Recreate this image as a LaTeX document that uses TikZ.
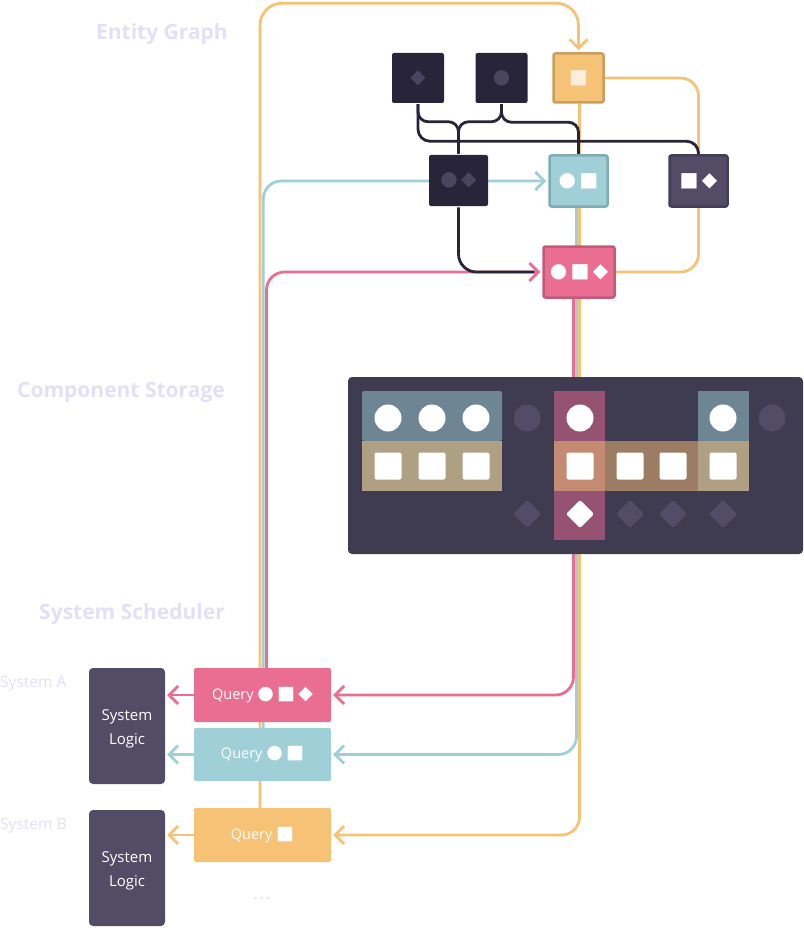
\documentclass[tikz,border=0pt]{standalone}
\usepackage{fontspec}
\setmainfont{Open Sans}
\newfontfamily\symfont{DejaVu Sans}
\usetikzlibrary{arrows.meta,calc}

\definecolor{lav}{HTML}{E2DFF7}
\definecolor{ink}{HTML}{28243A}
\definecolor{muted}{HTML}{4A4560}
\definecolor{plum}{HTML}{524C66}
\definecolor{plumD}{HTML}{433E57}
\definecolor{store}{HTML}{3F3B51}
\definecolor{qorange}{HTML}{F5C276}
\definecolor{qorangeD}{HTML}{C99E5E}
\definecolor{cream}{HTML}{FBEEDD}
\definecolor{qblue}{HTML}{9FD0D8}
\definecolor{qblueD}{HTML}{80ADB3}
\definecolor{qpink}{HTML}{E96E91}
\definecolor{qpinkD}{HTML}{C45A7A}
\definecolor{sblue}{HTML}{6E8594}
\definecolor{stan}{HTML}{B0A083}
\definecolor{stanD}{HTML}{9C7C62}
\definecolor{spink}{HTML}{955273}
\definecolor{smix}{HTML}{C48A72}

\pgfdeclarelayer{background}
\pgfsetlayers{background,main}

\begin{document}
\begin{tikzpicture}
		[x=1pt,y=-1pt,
		title/.style ={font=\fontsize{21}{24}\selectfont\bfseries, text=lav, anchor=base east, inner sep=0pt},
		sysname/.style ={font=\fontsize{15.5}{18}\selectfont, text=lav, anchor=base west, inner sep=0pt},
		ent/.style ={rectangle, rounded corners=2pt, line width=2.5pt, inner sep=0pt, text=white, font=\symfont\fontsize{20}{20}\selectfont},
		dark/.style ={ent, fill=ink, text=muted, minimum width=52pt, minimum height=50pt},
		query/.style ={rectangle, rounded corners=2pt, minimum width=137pt, minimum height=54pt, text=white, font=\fontsize{14.5}{18}\selectfont},
		logic/.style ={rectangle, rounded corners=4pt, fill=plum, minimum width=76pt, minimum height=116pt, text=white, align=center, font=\fontsize{15}{24}\selectfont},
		line/.style ={line width=2.8pt, rounded corners=18pt},
		arr/.style ={-{Straight Barb[length=9pt,width=18pt]}, shorten >=2pt},
		]
		\useasboundingbox (0,0) rectangle (803,928);

		% section titles
		\draw (228,40) node[title] (T1) {Entity Graph};
		\draw (225,397) node[title] (T2) {Component Storage};
		\draw (225,619) node[title] (T3) {System Scheduler};
		\draw (0,687) node[sysname] (SA) {System A};
		\draw (0,829) node[sysname] (SB) {System B};

		% entity graph
		\draw (418,78) node[dark] (G1) {◆};
		\draw (501.5,78) node[dark] (G2) {●};
		\draw (578.5,78) node[ent, fill=qorange, draw=qorangeD, text=cream, minimum width=50pt, minimum height=49pt] (G3) {■};
		\draw (458.5,180.5) node[dark, minimum width=59pt, minimum height=51pt] (G4) {●\,◆};
		\draw (578.5,181) node[ent, fill=qblue, draw=qblueD, minimum width=58pt, minimum height=51pt] (G5) {●\,■};
		\draw (698.5,181) node[ent, fill=plum, draw=plumD, minimum width=58pt, minimum height=51pt] (G6) {■\,◆};
		\draw (579,272) node[ent, fill=qpink, draw=qpinkD, minimum width=71pt, minimum height=51pt] (G7) {●\,■\,◆};

		% component storage
		\draw (575.5,465.5) node[rectangle, rounded corners=4pt, fill=store, minimum width=455pt, minimum height=177pt] (S) {};
		\fill[sblue, rounded corners=2pt] (362,391) rectangle (502,441);
		\fill[stan] (362,441) rectangle (502,491);
		\fill[sblue] (698,391) rectangle (749,441);
		\fill[stanD] (554,441) rectangle (698,491);
		\fill[stan] (698,441) rectangle (749,491);
		\fill[spink] (554,391) rectangle (605,540);
		\fill[smix] (554,441) rectangle (605,491);
		\foreach \x in {388,432,476,580,723} \fill[white] (\x,418) circle (13.5);
		\foreach \x in {527,772} \fill[plum] (\x,418) circle (13.5);
		\foreach \x in {388,432,476,580,630,673,723} \fill[white, rounded corners=2pt] (\x-13.5,452.5) rectangle ++(27,27);
		\foreach \x/\c in {527/plum,580/white,630/plum,673/plum,723/plum}
			\fill[\c, rounded corners=2pt] (\x,500) -- ++(14,14) -- ++(-14,14) -- ++(-14,-14) -- cycle;

		% system scheduler
		\draw (262.5,695) node[query, fill=qpink] (Q1) {Query {\symfont\fontsize{19}{19}\selectfont ●\,■\,◆}};
		\draw (262.5,754.5) node[query, fill=qblue, minimum height=53pt] (Q2) {Query {\symfont\fontsize{19}{19}\selectfont ●\,■}};
		\draw (262.5,835) node[query, fill=qorange] (Q3) {Query {\symfont\fontsize{19}{19}\selectfont ■}};
		\draw (127,726) node[logic] (L1) {\strut System\\Logic};
		\draw (127,868) node[logic] (L2) {\strut System\\Logic};
		\draw (262,899) node[text=lav, font=\fontsize{14}{16}\selectfont\bfseries] (D) {.\,.\,.};

		\path[line, arr]
		(Q1.west) edge[qpink] (Q1.west -| L1.east)
		(Q2.west) edge[qblue] (Q2.west -| L1.east)
		(Q3.west) edge[qorange] (Q3.west -| L2.east);

		\begin{pgfonlayer}{background}
		\draw[line, qorange, arr, rounded corners=22pt] ([xshift=-2.5pt]Q3.north) |- ([yshift=49pt]G3.north) -- (G3.north);
		\draw[line, qorange] (G3.east) -| (G6.center) |- (G7.east);
		\draw[line, qorange, arr] ([xshift=1pt]G3.south) |- (Q3.east);
		\draw[line, qblue, arr] ([xshift=0.8pt]Q2.north) |- (G5.west);
		\draw[line, qblue, arr] ([xshift=-2pt]G5.south) |- (Q2.east);
		\draw[line, qpink, arr] ([xshift=4pt]Q1.north) |- (G7.west);
		\draw[line, qpink, arr] ([xshift=-5.5pt]G7.south) |- (Q1.east);
		\draw[line, ink, rounded corners=12pt] (G1.south) |- ([yshift=13pt]G6.north) -- (G6.north);
		\draw[line, ink, rounded corners=10pt] (G1.south) |- ([yshift=32pt]G4.north) -- (G4.north);
		\draw[line, ink, rounded corners=10pt] (G2.south) |- ([yshift=32pt]G4.north) -- (G4.north);
		\draw[line, ink, rounded corners=10pt] (G2.south) |- ([yshift=32pt]G5.north) -- (G5.north);
		\draw[line, ink] (G4.south) |- ([xshift=-8pt]G7.west);
		\end{pgfonlayer}

	\end{tikzpicture}
\end{document}
